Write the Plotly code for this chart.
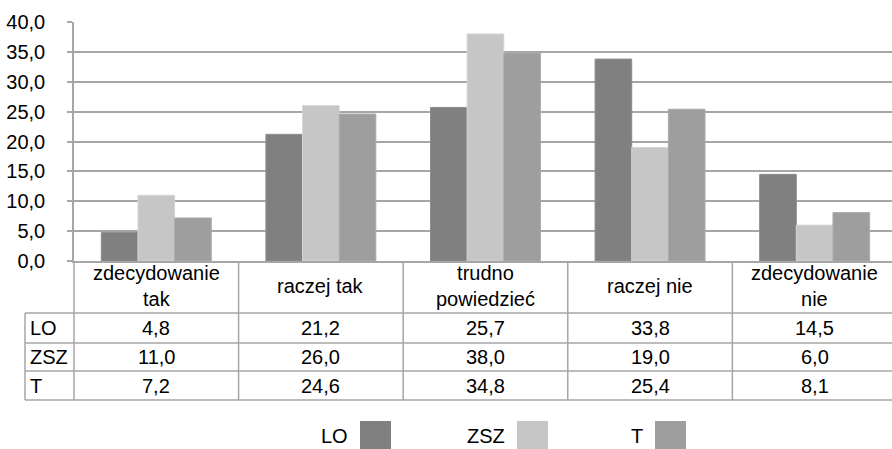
import plotly.graph_objects as go

categories = ["zdecydowanie<br>tak", "raczej tak", "trudno<br>powiedzieć", "raczej nie", "zdecydowanie<br>nie"]
cat_keys = ["zdecydowanie tak", "raczej tak", "trudno powiedzieć", "raczej nie", "zdecydowanie nie"]
series_names = ["LO", "ZSZ", "T"]
lo_values = [4.8, 21.2, 25.7, 33.8, 14.5]
zsz_values = [11.0, 26.0, 38.0, 19.0, 6.0]
t_values = [7.2, 24.6, 34.8, 25.4, 8.1]
y_ticks = [0, 5, 10, 15, 20, 25, 30, 35, 40]

series_values = [lo_values, zsz_values, t_values]
colors = ["#808080", "#C6C6C6", "#9E9E9E"]
edge_colors = ["#8C8C8C", "#D4D4D4", "#ABABAB"]

W, H = 892, 449
ML, MR, MT, MB = 74, 0, 22, 188
PLOT_H = H - MT - MB
FONT = "Liberation Sans, Arial, sans-serif"
FS = 20
GRID = "#A6A6A6"

def py(p):
    # pixel row -> paper y
    return (H - MB - p) / PLOT_H

def px(p):
    return (p - ML) / (W - ML - MR)

fig = go.Figure()
for name, vals, c, ec in zip(series_names, series_values, colors, edge_colors):
    fig.add_trace(go.Bar(x=cat_keys, y=vals, name=name, marker=dict(color=c, line=dict(color=ec, width=1)),
                         showlegend=False))

shapes = []
annotations = []

# table geometry (pixel rows)
header_top, header_bot = 261, 313
row_edges = [313, 343, 371, 400]
left_edge = 25

# horizontal lines
for r in row_edges:
    shapes.append(dict(type="line", xref="paper", yref="paper", x0=px(left_edge), x1=1.0,
                       y0=py(r), y1=py(r), line=dict(color=GRID, width=1.5)))
# vertical lines
shapes.append(dict(type="line", xref="paper", yref="paper", x0=px(left_edge), x1=px(left_edge),
                   y0=py(row_edges[0]), y1=py(row_edges[-1]), line=dict(color=GRID, width=1.5)))
shapes.append(dict(type="line", xref="paper", yref="paper", x0=0, x1=0,
                   y0=0, y1=py(row_edges[-1]), line=dict(color=GRID, width=1.5)))
for i in range(1, len(cat_keys)):
    shapes.append(dict(type="line", xref="x", yref="paper", x0=i - 0.5, x1=i - 0.5,
                       y0=0, y1=py(row_edges[-1]), line=dict(color=GRID, width=1.5)))

# header labels
for key, lab in zip(cat_keys, categories):
    annotations.append(dict(x=key, xref="x", y=py((header_top + header_bot) / 2 - 1), yref="paper",
                            text=lab, showarrow=False, xanchor="center", yanchor="middle",
                            font=dict(family=FONT, size=FS, color="#000")))

# rows
for ri, (name, vals) in enumerate(zip(series_names, series_values)):
    yc = py((row_edges[ri] + row_edges[ri + 1]) / 2)
    annotations.append(dict(x=px(left_edge + 3), xref="paper", y=yc, yref="paper", text=name,
                            showarrow=False, xanchor="left", yanchor="middle",
                            font=dict(family=FONT, size=FS, color="#000")))
    for key, v in zip(cat_keys, vals):
        annotations.append(dict(x=key, xref="x", y=yc, yref="paper",
                                text=f"{v:.1f}".replace(".", ","), showarrow=False,
                                xanchor="center", yanchor="middle",
                                font=dict(family=FONT, size=FS, color="#000")))

# legend (text then swatch)
legend_sq_left = [360, 517, 655]
sq_w, sq_top, sq_bot = 31, 421, 449
for name, c, x0 in zip(series_names, colors, legend_sq_left):
    shapes.append(dict(type="rect", xref="paper", yref="paper", x0=px(x0), x1=px(x0 + sq_w),
                       y0=py(sq_bot), y1=py(sq_top), fillcolor=c, line=dict(width=0)))
    annotations.append(dict(x=px(x0 - 10), xref="paper", y=py((sq_top + sq_bot) / 2 + 1), yref="paper",
                            text=name, showarrow=False, xanchor="right", yanchor="middle",
                            font=dict(family=FONT, size=FS, color="#000")))

fig.update_layout(
    width=W, height=H,
    margin=dict(l=ML, r=MR, t=MT, b=MB, pad=0),
    paper_bgcolor="white", plot_bgcolor="white",
    separators=", ",
    barmode="group", bargap=0.332, bargroupgap=0,
    font=dict(family=FONT, size=FS, color="#000"),
    shapes=shapes, annotations=annotations,
    showlegend=False,
    xaxis=dict(type="category", range=[-0.5, 4.47], showticklabels=False, ticks="",
               showgrid=False, showline=True, linecolor=GRID, linewidth=1.5, zeroline=False,
               fixedrange=True),
    yaxis=dict(range=[0, 40], tickvals=y_ticks, tickformat=".1f", showgrid=True,
               gridcolor=GRID, gridwidth=1.5, showline=True, linecolor=GRID, linewidth=1.5,
               ticks="outside", ticklen=5, tickcolor=GRID, tickwidth=1.5,
               ticklabelstandoff=18, zeroline=False,
               tickfont=dict(family=FONT, size=FS, color="#000")),
)

fig.write_html("out.html", config={"displayModeBar": False},
               post_script="document.body.style.margin='0px';document.body.style.padding='0px';")
